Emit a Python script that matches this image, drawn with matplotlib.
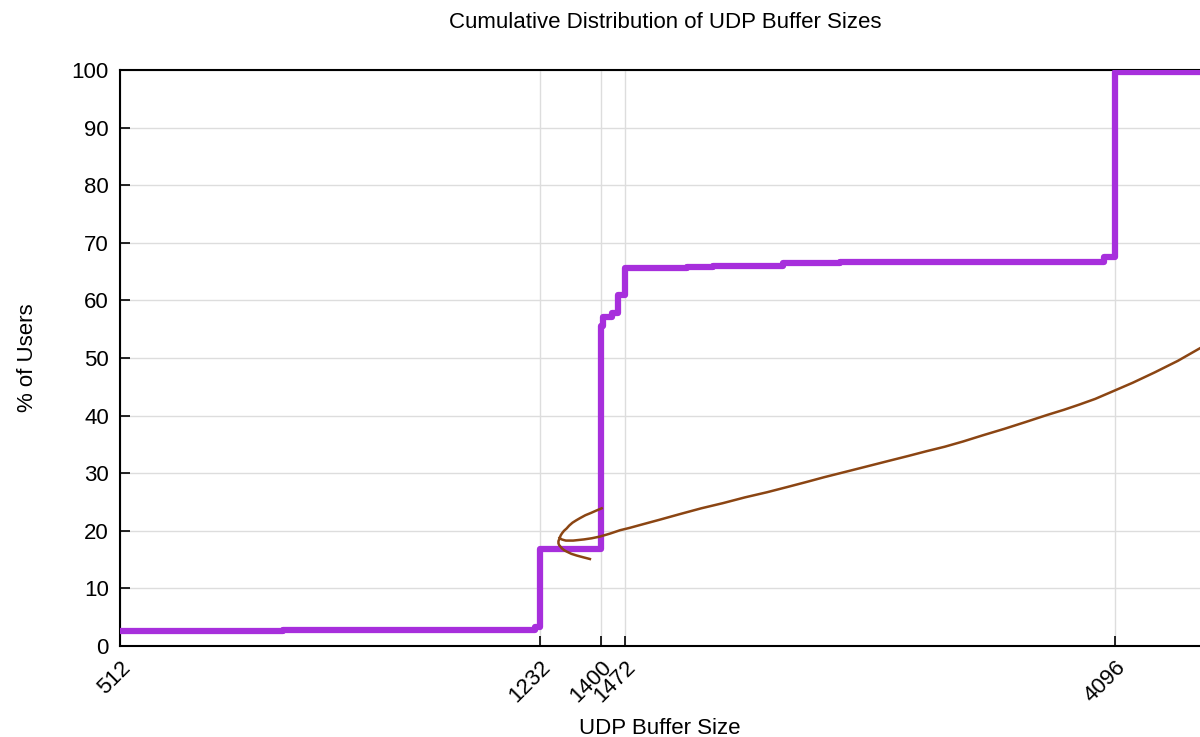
import matplotlib
matplotlib.use('Agg')
import matplotlib.pyplot as plt
from matplotlib.ticker import NullLocator

plt.rcParams['font.family'] = ['Liberation Sans', 'DejaVu Sans']

# Cumulative share of users per UDP buffer size (step data)
buf_sizes = [512, 720, 1220, 1232, 1400, 1405, 1432, 1450, 1472, 1675, 1768, 2048, 2306, 4000, 4096, 4892]
cum_pct = [2.6, 2.8, 3.3, 16.8, 55.5, 57.1, 57.8, 61.0, 65.6, 65.8, 65.9, 66.5, 66.7, 67.5, 99.6, 99.6]

# Brown smoothed curve in two pieces
curve1_x = [1401, 1385, 1370, 1354, 1339, 1328, 1318, 1309, 1302, 1295, 1290, 1286, 1283, 1280,
            1280, 1282, 1286, 1290, 1296, 1302, 1315, 1330, 1348, 1367]
curve1_y = [23.9, 23.5, 23.1, 22.7, 22.2, 21.8, 21.4, 20.9, 20.4, 20.0, 19.6, 19.2, 18.7, 18.2,
            17.8, 17.5, 17.2, 16.9, 16.6, 16.4, 16.0, 15.7, 15.4, 15.1]
curve2_x = [1283, 1286, 1289, 1294, 1300, 1310, 1320, 1335, 1350, 1372, 1396, 1425, 1456, 1485,
            1518, 1580, 1650, 1725, 1805, 1890, 1980, 2065, 2152, 2230, 2306, 2430, 2560, 2660,
            2760, 2870, 2981, 3110, 3250, 3400, 3553, 3680, 3800, 3930, 4053, 4250, 4450, 4670, 4892]
curve2_y = [18.8, 18.6, 18.5, 18.4, 18.3, 18.3, 18.3, 18.4, 18.5, 18.7, 19.0, 19.5, 20.1, 20.5,
            21.0, 21.9, 22.9, 23.9, 24.8, 25.8, 26.7, 27.6, 28.5, 29.3, 30.0, 31.1, 32.2, 33.0,
            33.8, 34.6, 35.5, 36.6, 37.7, 38.9, 40.1, 41.0, 41.9, 42.9, 44.0, 45.7, 47.5, 49.5, 51.7]

xticks = [512, 1232, 1400, 1472, 4096]
yticks = list(range(0, 101, 10))

fig = plt.figure(figsize=(12, 7.37), dpi=100)
ax = fig.add_axes([0.1, 0.1235, 0.9, 0.7815])

ax.step(buf_sizes, cum_pct, where='post', color='#a72fdc', linewidth=4.5,
        solid_joinstyle='round', solid_capstyle='round', zorder=3)
ax.plot(curve1_x, curve1_y, color='#8b4513', linewidth=1.8, zorder=4)
ax.plot(curve2_x, curve2_y, color='#8b4513', linewidth=1.8, zorder=4)

ax.set_xscale('log')
ax.set_xlim(512, 4892)
ax.set_ylim(0, 100)
ax.set_xticks(xticks)
ax.set_xticklabels([str(t) for t in xticks], rotation=45, ha='right', rotation_mode='anchor')
ax.xaxis.set_minor_locator(NullLocator())
ax.set_yticks(yticks)

ax.tick_params(direction='in', length=7, width=1.2, labelsize=16, pad=8)
ax.grid(True, color='#dddddd', linewidth=1.0)
ax.set_axisbelow(True)
ax.spines['right'].set_visible(False)
for s in ['left', 'bottom', 'top']:
    ax.spines[s].set_linewidth(1.5)

ax.set_title('Cumulative Distribution of UDP Buffer Sizes', fontsize=16, pad=30, x=0.505)
ax.set_xlabel('UDP Buffer Size', fontsize=16, labelpad=8)
ax.set_ylabel('% of Users', fontsize=16, labelpad=24)

fig.savefig('out.png', dpi=100)
